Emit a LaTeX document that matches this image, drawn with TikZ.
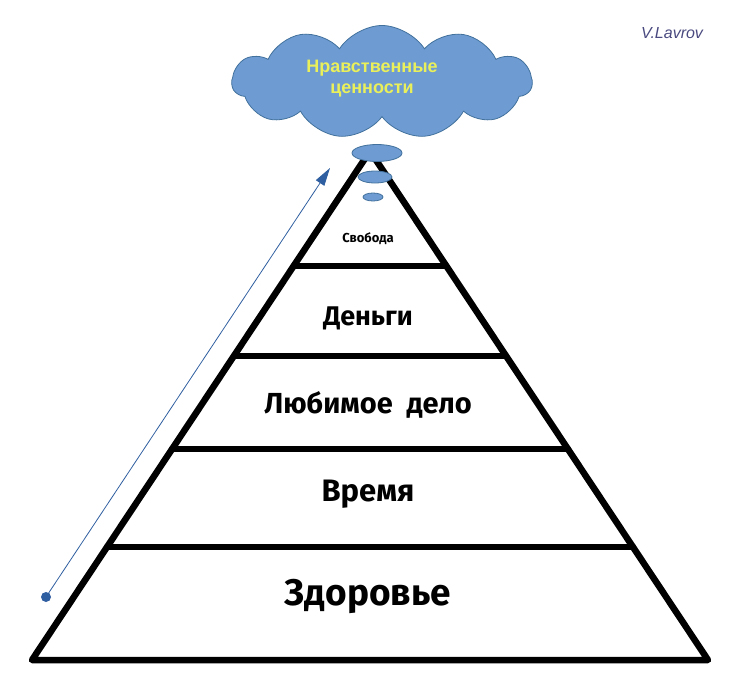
\documentclass[tikz,border=0pt]{standalone}
\usepackage{fontspec}
\setmainfont{Fira Sans}
\newfontfamily\cloudfont{Liberation Sans}
\usetikzlibrary{shapes.symbols,shapes.geometric,arrows.meta}
\definecolor{cloudfill}{HTML}{6E9BD2}
\definecolor{cloudline}{HTML}{41719C}
\definecolor{cloudtext}{HTML}{EAF05A}
\definecolor{arrowblue}{HTML}{2F5FA0}
\definecolor{signcol}{HTML}{4A4A80}
\tikzset{
  pyrline/.style={line width=6.5pt, line join=round, line cap=round, black},
  tier/.style={font=\bfseries, text=black, inner sep=0pt},
  bubble/.style={ellipse, fill=cloudfill, draw=cloudline, line width=0.8pt, inner sep=0pt},
}
\begin{document}
\begin{tikzpicture}[x=1pt,y=-1pt]
\useasboundingbox (0,0) rectangle (742,696);
% pyramid corners
\coordinate (apex) at (370,151);
\coordinate (bl) at (32,660);
\coordinate (br) at (708,660);
\draw[pyrline] (bl) -- (apex) -- (br) -- cycle;
% tier lines
\coordinate (l1) at (293.6,266); \coordinate (r1) at (446.4,266);
\coordinate (l2) at (234,356);   \coordinate (r2) at (506,356);
\coordinate (l3) at (172,449);   \coordinate (r3) at (568,449);
\coordinate (l4) at (107,547);   \coordinate (r4) at (633,547);
\draw[pyrline] (l1) -- (r1);
\draw[pyrline] (l2) -- (r2);
\draw[pyrline] (l3) -- (r3);
\draw[pyrline] (l4) -- (r4);
% labels
\node[tier, font=\bfseries\fontsize{13}{15}\selectfont] (svoboda) at (368,239) {Свобода};
\node[tier, font=\bfseries\fontsize{27}{30}\selectfont] (dengi) at (368,318) {Деньги};
\node[tier, font=\bfseries\fontsize{29}{32}\selectfont] (delo) at (368,405) {Любимое\ \ дело};
\node[tier, font=\bfseries\fontsize{31}{34}\selectfont] (vremya) at (368,494) {Время};
\node[tier, font=\bfseries\fontsize{37}{42}\selectfont] (zdorovie) at (368,596) {Здоровье};
% cloud
\node[cloud, cloud puffs=11, cloud puff arc=115, aspect=2.6, fill=cloudfill, draw=cloudline, line width=0.8pt,
      minimum width=300pt, minimum height=113pt, inner sep=0pt] (cloud) at (382,82) {};
\node[font=\cloudfont\bfseries\fontsize{18}{21}\selectfont, text=cloudtext, align=center] (cloudtxt) at (372,79) {Нравственные\\ценности};
% bubbles
\node[bubble, minimum width=50pt, minimum height=17pt] (b1) at (377,153) {};
\node[bubble, minimum width=34pt, minimum height=12pt] (b2) at (375,177) {};
\node[bubble, minimum width=20pt, minimum height=8pt] (b3) at (373,197) {};
% arrow
\coordinate (astart) at (46,597);
\coordinate (atip) at (330,168);
\fill[arrowblue] (astart) circle (5pt);
\draw[arrowblue, line width=0.8pt, -{Triangle[length=18pt,width=10pt]}] (astart) -- (atip);
% signature
\node[font=\cloudfont\itshape\fontsize{16}{18}\selectfont, text=signcol] (sign) at (672,33) {V.Lavrov};
\end{tikzpicture}
\end{document}
